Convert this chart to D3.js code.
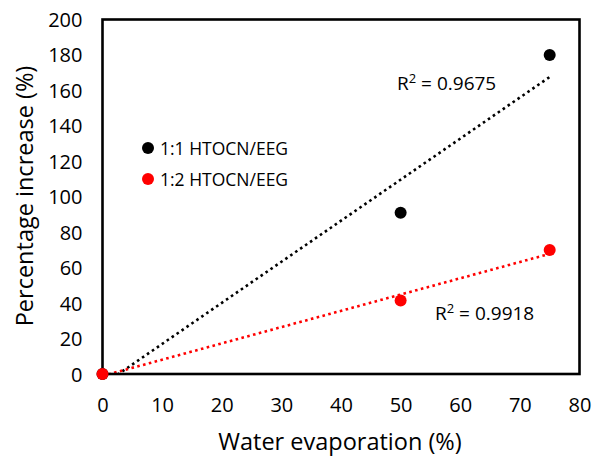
<!DOCTYPE html>
<html>
<head>
<meta charset="utf-8">
<script src="https://cdn.jsdelivr.net/npm/d3@7"></script>
<style>
  html, body { margin: 0; padding: 0; background: #fff; }
  svg { display: block; font-family: "Open Sans", "Noto Sans", sans-serif; }
</style>
</head>
<body>
<svg id="chart" width="594" height="457"></svg>
<script>
// Evaporation levels (%) and percentage increase for each blend
const evaporation = [0, 50, 75];
const blend11 = [0, 91, 180];   // 1:1 HTOCN/EEG
const blend12 = [0, 41.5, 70];  // 1:2 HTOCN/EEG
const seriesNames = ["1:1 HTOCN/EEG", "1:2 HTOCN/EEG"];
const seriesColors = ["#000000", "#ff0000"];
const r2Values = ["0.9675", "0.9918"];
const xTicks = [0, 10, 20, 30, 40, 50, 60, 70, 80];
const yTicks = [0, 20, 40, 60, 80, 100, 120, 140, 160, 180, 200];

const svg = d3.select("#chart");
const plotLeft = 102.5, plotRight = 579.5, plotTop = 19.5, plotBottom = 374;

const x = d3.scaleLinear().domain([0, 80]).range([plotLeft, plotRight]);
const y = d3.scaleLinear().domain([0, 200]).range([plotBottom, plotTop]);

// Least-squares linear fit
function linFit(xs, ys) {
  const mx = d3.mean(xs), my = d3.mean(ys);
  let sxy = 0, sxx = 0;
  xs.forEach((v, i) => { sxy += (v - mx) * (ys[i] - my); sxx += (v - mx) ** 2; });
  const slope = sxy / sxx;
  return { slope, intercept: my - slope * mx };
}

svg.append("defs").append("clipPath").attr("id", "plotClip")
  .append("rect").attr("x", plotLeft).attr("y", plotTop)
  .attr("width", plotRight - plotLeft).attr("height", plotBottom - plotTop);

// Axes: tick labels only, no tick marks
const xAxis = svg.append("g").attr("transform", `translate(0,${plotBottom})`)
  .call(d3.axisBottom(x).tickValues(xTicks).tickSize(0).tickPadding(0));
xAxis.select(".domain").remove();
xAxis.selectAll("text").attr("y", 38).attr("dy", null)
  .style("font-size", "20px").style("font-family", "Open Sans").attr("fill", "#000");

const yAxis = svg.append("g").attr("transform", `translate(${plotLeft},0)`)
  .call(d3.axisLeft(y).tickValues(yTicks).tickSize(0).tickPadding(0));
yAxis.select(".domain").remove();
yAxis.selectAll("text").attr("x", -20).attr("dy", "0.35em")
  .style("font-size", "20px").style("font-family", "Open Sans").attr("fill", "#000");

// Trendlines
const series = [blend11, blend12];
const plot = svg.append("g").attr("clip-path", "url(#plotClip)");
series.forEach((vals, i) => {
  const f = linFit(evaporation, vals);
  const x0 = d3.min(evaporation), x1 = d3.max(evaporation);
  plot.append("line")
    .attr("x1", x(x0)).attr("y1", y(f.intercept + f.slope * x0))
    .attr("x2", x(x1)).attr("y2", y(f.intercept + f.slope * x1))
    .attr("stroke", seriesColors[i]).attr("stroke-width", 2.6)
    .attr("stroke-dasharray", "2.6,3.4");
});

// Frame
svg.append("rect").attr("x", plotLeft).attr("y", plotTop)
  .attr("width", plotRight - plotLeft).attr("height", plotBottom - plotTop)
  .attr("fill", "none").attr("stroke", "#000").attr("stroke-width", 2.6);

// Points
series.forEach((vals, i) => {
  svg.append("g").selectAll("circle").data(vals).join("circle")
    .attr("cx", (d, j) => x(evaporation[j])).attr("cy", d => y(d))
    .attr("r", 6).attr("fill", seriesColors[i]);
});

// Legend
const legend = svg.append("g");
seriesNames.forEach((name, i) => {
  const ly = 148 + i * 31;
  legend.append("circle").attr("cx", 148).attr("cy", ly).attr("r", 6).attr("fill", seriesColors[i]);
  legend.append("text").attr("x", 160).attr("y", ly + 7)
    .style("font-size", "17.5px").attr("fill", "#000").text(name);
});

// R² labels with a raised "2"
function r2Label(px, py, value) {
  const t = svg.append("text").attr("x", px).attr("y", py).style("font-size", "19px");
  t.append("tspan").text("R");
  t.append("tspan").attr("dy", -7).style("font-size", "13px").text("2");
  t.append("tspan").attr("dy", 7).text(" = " + value);
}
r2Label(397, 90, r2Values[0]);
r2Label(435, 320, r2Values[1]);

// Axis titles
svg.append("text").attr("x", (plotLeft + plotRight) / 2 - 1).attr("y", 450)
  .attr("text-anchor", "middle").style("font-size", "23.5px").text("Water evaporation (%)");
svg.append("text").attr("transform", "translate(33,196) rotate(-90)")
  .attr("text-anchor", "middle").style("font-size", "23.5px").text("Percentage increase (%)");
</script>
</body>
</html>
